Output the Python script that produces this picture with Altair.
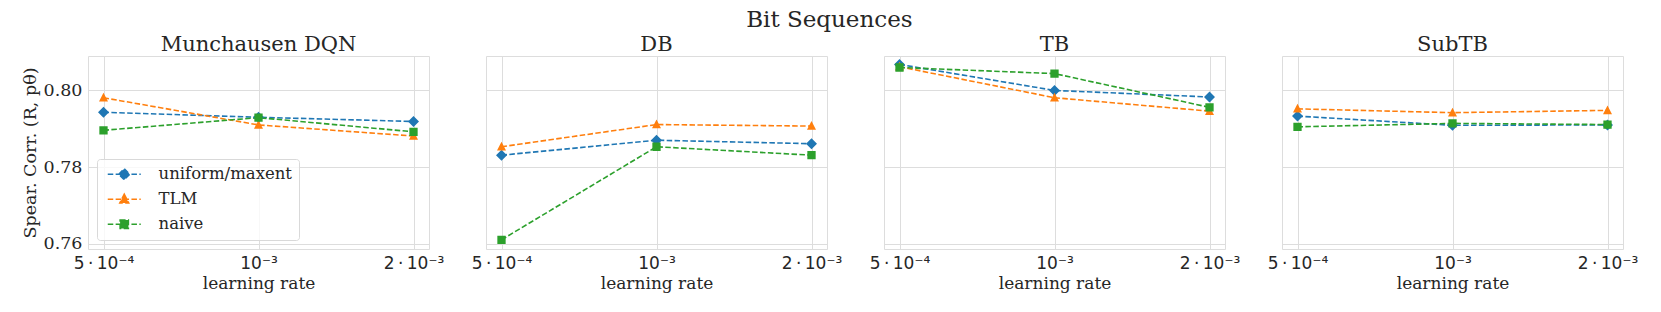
import altair as alt
import pandas as pd

# ---- data ----
methods = ["Munchausen DQN", "DB", "TB", "SubTB"]
lr_labels = ["5\u2009·\u200910⁻⁴", "10⁻³", "2\u2009·\u200910⁻³"]
series = ["uniform/maxent", "TLM", "naive"]

mdqn_uniform = [0.7943, 0.7930, 0.7919]
mdqn_tlm = [0.7981, 0.7910, 0.7881]
mdqn_naive = [0.7896, 0.7929, 0.7892]

db_uniform = [0.7831, 0.7870, 0.7861]
db_tlm = [0.7853, 0.7911, 0.7907]
db_naive = [0.7610, 0.7853, 0.7831]

tb_uniform = [0.8068, 0.8000, 0.7983]
tb_tlm = [0.8062, 0.7981, 0.7946]
tb_naive = [0.8060, 0.8044, 0.7956]

subtb_uniform = [0.7933, 0.7909, 0.7910]
subtb_tlm = [0.7952, 0.7942, 0.7948]
subtb_naive = [0.7905, 0.7914, 0.7911]

y_ticks = [0.76, 0.78, 0.80]

# ---- styling ----
colors = ["#1f77b4", "#ff7f0e", "#2ca02c"]
LINE = "M-3.3,0L3.3,0"
shapes = [
    LINE + "M-1.1,0L0,-1.1L1.1,0L0,1.1Z",
    LINE + "M0,-1L0.9,0.75L-0.9,0.75Z",
    LINE + "M-0.83,-0.83L0.83,-0.83L0.83,0.83L-0.83,0.83Z",
]
SERIF = "DejaVu Serif"
SANS = "DejaVu Sans"
TXT = "#262626"
W, H = 341, 193

table = {
    "Munchausen DQN": [mdqn_uniform, mdqn_tlm, mdqn_naive],
    "DB": [db_uniform, db_tlm, db_naive],
    "TB": [tb_uniform, tb_tlm, tb_naive],
    "SubTB": [subtb_uniform, subtb_tlm, subtb_naive],
}


def make_df(method):
    rows = []
    for s, vals in zip(series, table[method]):
        for lr, v in zip(lr_labels, vals):
            rows.append({"series": s, "lr": lr, "value": v})
    return pd.DataFrame(rows)


def panel(i, method):
    df = make_df(method)
    base = alt.Chart(df)
    x = alt.X(
        "lr:N",
        sort=lr_labels,
        scale=alt.Scale(type="point", padding=0.1),
        axis=alt.Axis(
            title="learning rate",
            labelAngle=0,
            labelFont=SANS,
            labelFontSize=17,
            labelColor=TXT,
            labelPadding=6,
            titleFont=SERIF,
            titleFontSize=17,
            titleFontWeight="normal",
            titleColor=TXT,
            titlePadding=4,
            ticks=False,
            tickSize=0,
            domain=False,
            grid=True,
        ),
    )
    y_axis = alt.Axis(
        values=y_ticks,
        format=".2f",
        grid=True,
        ticks=False,
        tickSize=0,
        domain=False,
        labels=(i == 0),
        labelFont=SERIF,
        labelFontSize=17.5,
        labelColor=TXT,
        labelPadding=6,
        title="Spear. Corr. (R, pθ)" if i == 0 else None,
        titleFont=SERIF,
        titleFontSize=17.5,
        titleFontWeight="normal",
        titleColor=TXT,
        titlePadding=4,
    )
    y = alt.Y(
        "value:Q",
        scale=alt.Scale(domain=[0.7586, 0.809], nice=False, zero=False),
        axis=y_axis,
    )
    legend = None
    if i == 0:
        legend = alt.Legend(
            title=None,
            orient="none",
            legendX=9,
            legendY=103,
            labelFont=SERIF,
            labelFontSize=16.5,
            labelColor=TXT,
            labelLimit=400,
            symbolSize=100,
            symbolStrokeWidth=1.5,
            symbolDash=[5.5, 2.4],
            symbolOffset=12,
            labelOffset=26,
            rowPadding=8,
            padding=7,
            fillColor="rgba(255,255,255,0.8)",
            strokeColor="#d9d9d9",
            cornerRadius=3,
        )
    cscale = alt.Scale(domain=series, range=colors)
    lines = base.mark_line(strokeDash=[5.5, 2.4], strokeWidth=1.6).encode(
        x=x,
        y=y,
        color=alt.Color("series:N", scale=cscale, legend=None),
    )
    points = base.mark_point(filled=True, opacity=1, size=100).encode(
        x=x,
        y=y,
        color=alt.Color("series:N", scale=cscale, legend=legend),
        stroke=alt.Stroke("series:N", scale=cscale, legend=legend),
        shape=alt.Shape("series:N", scale=alt.Scale(domain=series, range=shapes), legend=legend),
        strokeWidth=alt.value(0),
    )
    return (
        alt.layer(lines, points)
        .resolve_scale(color="independent", shape="independent", stroke="independent")
        .properties(
            width=W,
            height=H,
            title=alt.TitleParams(
                method,
                font=SERIF,
                fontSize=21,
                fontWeight="normal",
                color=TXT,
                offset=1,
                anchor="middle",
            ),
        )
    )


panels = [panel(i, m) for i, m in enumerate(methods)]

chart = (
    alt.hconcat(*panels, spacing=57, bounds="flush")
    .resolve_scale(color="independent", shape="independent", stroke="independent")
    .resolve_legend(color="independent", shape="independent", stroke="independent")
    .properties(
        title=alt.TitleParams(
            "Bit Sequences",
            font=SERIF,
            fontSize=23,
            fontWeight="normal",
            color=TXT,
            offset=2,
            anchor="middle",
        ),
        padding={"left": 12, "top": 0, "right": 5, "bottom": 5},
    )
    .configure_view(stroke="#d0d0d0", strokeWidth=1)
    .configure_axis(gridColor="#dcdcdc", gridWidth=1)
    .configure(background="white")
)

chart.save("out.html", embed_options={"renderer": "svg", "actions": False})
